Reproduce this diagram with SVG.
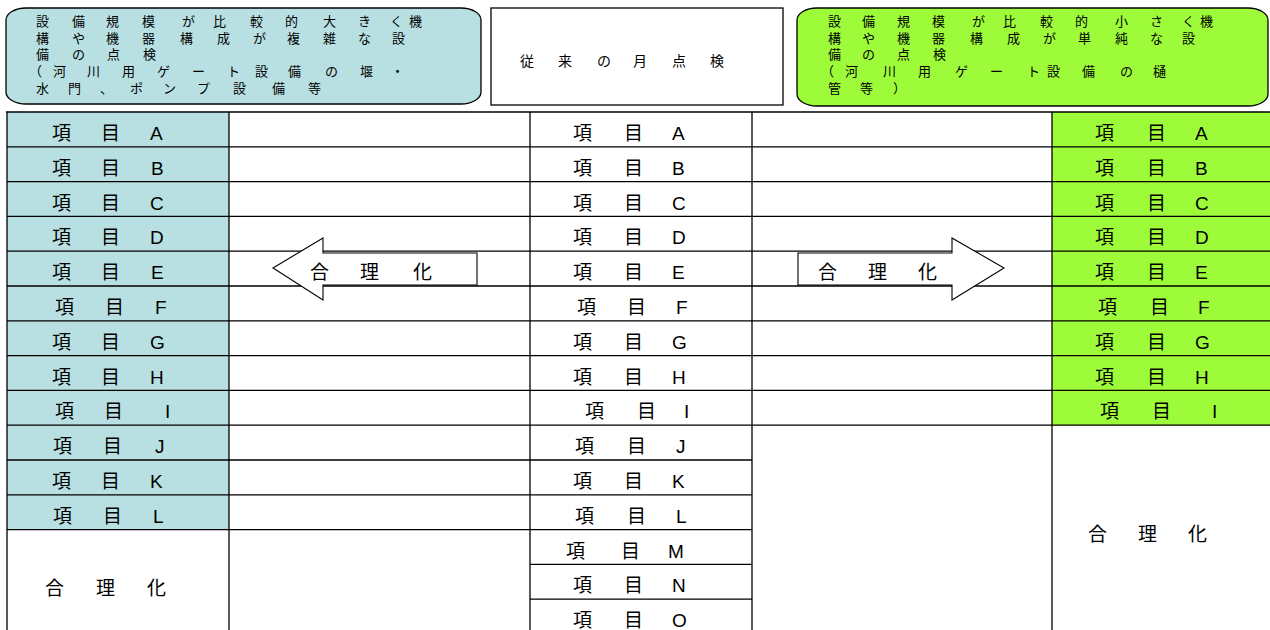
<svg xmlns="http://www.w3.org/2000/svg" width="1270" height="630" viewBox="0 0 1270 630">
<style>
text{font-family:"Liberation Sans","Noto Sans CJK JP",sans-serif;fill:#000}
.hd{font-size:13px}
.it{font-size:19px}
.ln{stroke:#000;stroke-width:1.3;fill:none}
.blue{fill:#b8e0e3}
.green{fill:#9dfb3a}
.arrow{fill:#fff;stroke:#000;stroke-width:1.1}
</style>
<rect width="1270" height="630" fill="#fff"/>

<g id="header-large">
<rect x="6" y="8" width="475" height="96" rx="20" ry="12" class="blue" stroke="#000" stroke-width="1.3"/>
<text class="hd" x="36 72 106 142 182 213 250 285 323 358 390 409" y="26">設備規模が比較的大きく機</text>
<text class="hd" x="36 72 106 142 180 217 253 287 323 358 392" y="42.5">構や機器構成が複雑な設</text>
<text class="hd" x="36 72 107 143" y="59">備の点検</text>
<text class="hd" x="29 53 87 122 157 192 227 255 288 325 360 391" y="76">（河川用ゲート設備の堰・</text>
<text class="hd" x="36 68 100 130 163 197 233 272 308" y="93">水門、ポンプ設備等</text>
</g>

<g id="header-conventional">
<rect x="491" y="8" width="292" height="97" fill="#fff" stroke="#000" stroke-width="1.3"/>
<text style="font-size:14px" x="520 558 597 633 672 710" y="66">従来の月点検</text>
</g>

<g id="header-small">
<rect x="797" y="8" width="471" height="98" rx="20" ry="12" class="green" stroke="#000" stroke-width="1.3"/>
<text class="hd" x="828 862 897 932 972 1003 1040 1075 1115 1150 1182 1200" y="26">設備規模が比較的小さく機</text>
<text class="hd" x="828 862 897 932 970 1007 1043 1078 1115 1150 1182" y="42.5">構や機器構成が単純な設</text>
<text class="hd" x="828 862 897 933" y="59">備の点検</text>
<text class="hd" x="821 845 883 918 955 990 1027 1047 1082 1120 1153" y="76">（河川用ゲート設備の樋</text>
<text class="hd" x="828 860 893" y="93">管等）</text>
</g>

<g id="table-fills">
<rect x="7" y="112" width="222" height="417.6" class="blue"/>
<rect x="1052" y="112" width="218" height="313.2" class="green"/>
</g>

<g id="table-lines">
<path class="ln" d="M6 112H1270M7 112V630M229 112V630M530 112V630M752 112V630M1052 112V630"/>
<path class="ln" d="M7 146.8H752M7 181.6H752M7 216.4H752M7 251.2H752M7 286H752M7 320.8H752M7 355.6H752M7 390.4H752M7 425.2H752M7 460H752M7 494.8H752"/>
<path class="ln" d="M7 529.6H752" stroke-width="1.8"/>
<path class="ln" d="M530 564.4H752M530 599.2H752"/>
<path class="ln" d="M752 146.8H1270M752 181.6H1270M752 216.4H1270M752 251.2H1270M752 286H1270M752 320.8H1270M752 355.6H1270M752 390.4H1270M752 425.2H1270"/>
</g>

<g id="items-large">
<text class="it" x="52 101 150" y="140">項目A</text>
<text class="it" x="52 101 151" y="174.8">項目B</text>
<text class="it" x="52 101 150" y="209.6">項目C</text>
<text class="it" x="52 101 150" y="244.4">項目D</text>
<text class="it" x="52 101 151" y="279.2">項目E</text>
<text class="it" x="55 105 155" y="314">項目F</text>
<text class="it" x="52 101 150" y="348.8">項目G</text>
<text class="it" x="52 101 150" y="383.6">項目H</text>
<text class="it" x="55 104 165" y="418.4">項目I</text>
<text class="it" x="53 103 155" y="453.2">項目J</text>
<text class="it" x="52 101 150" y="488">項目K</text>
<text class="it" x="53 103 153" y="522.8">項目L</text>
<text class="it" x="45 96 147" y="595">合理化</text>
</g>

<g id="items-conventional">
<text class="it" x="573 624 672" y="140">項目A</text>
<text class="it" x="573 624 672" y="174.8">項目B</text>
<text class="it" x="573 624 672" y="209.6">項目C</text>
<text class="it" x="573 624 672" y="244.4">項目D</text>
<text class="it" x="573 624 672" y="279.2">項目E</text>
<text class="it" x="577 627 676" y="314">項目F</text>
<text class="it" x="573 624 672" y="348.8">項目G</text>
<text class="it" x="573 624 672" y="383.6">項目H</text>
<text class="it" x="585 637 684" y="418.4">項目I</text>
<text class="it" x="575 627 676" y="453.2">項目J</text>
<text class="it" x="573 624 672" y="488">項目K</text>
<text class="it" x="575 627 676" y="522.8">項目L</text>
<text class="it" x="566 621 668" y="557.6">項目M</text>
<text class="it" x="573 624 672" y="592.4">項目N</text>
<text class="it" x="573 624 672" y="627.2">項目O</text>
</g>

<g id="items-small">
<text class="it" x="1095 1147 1195" y="140">項目A</text>
<text class="it" x="1095 1147 1195" y="174.8">項目B</text>
<text class="it" x="1095 1147 1195" y="209.6">項目C</text>
<text class="it" x="1095 1147 1195" y="244.4">項目D</text>
<text class="it" x="1095 1147 1195" y="279.2">項目E</text>
<text class="it" x="1098 1150 1198" y="314">項目F</text>
<text class="it" x="1095 1147 1195" y="348.8">項目G</text>
<text class="it" x="1095 1147 1195" y="383.6">項目H</text>
<text class="it" x="1100 1152 1212" y="418.4">項目I</text>
<text class="it" x="1088 1138 1188" y="541">合理化</text>
</g>

<g id="connectors">
<g id="arrow-left">
<polygon class="arrow" points="273,268 323,238 323,253 477,253 477,285 323,285 323,300"/>
<text class="it" x="310 360 413" y="279">合理化</text>
</g>
<g id="arrow-right">
<polygon class="arrow" points="798,253 952,253 952,238 1004,268 952,300 952,285 798,285"/>
<text class="it" x="818 868 918" y="279">合理化</text>
</g>
</g>
</svg>
